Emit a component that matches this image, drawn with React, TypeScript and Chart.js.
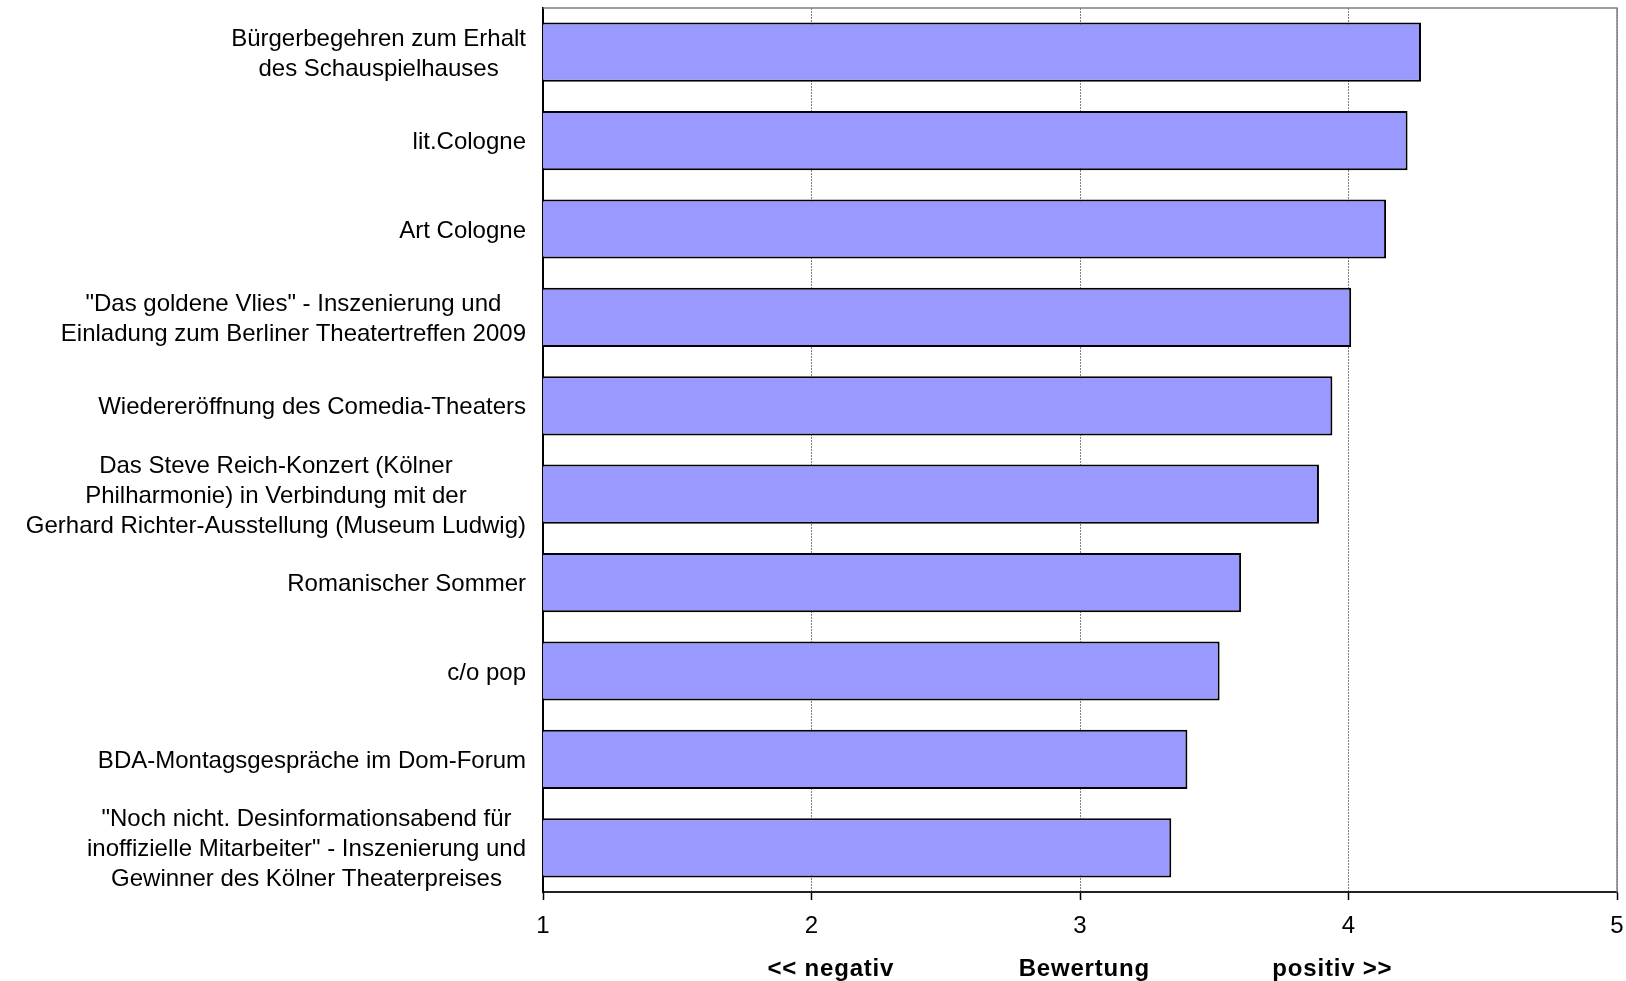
import React, { useEffect, useRef } from "react";
import { Chart, registerables } from "chart.js";

Chart.register(...registerables);

const categories: string[][] = [
  ["Bürgerbegehren zum Erhalt", "des Schauspielhauses"],
  ["lit.Cologne"],
  ["Art Cologne"],
  ["\"Das goldene Vlies\" - Inszenierung und", "Einladung zum Berliner Theatertreffen 2009"],
  ["Wiedereröffnung des Comedia-Theaters"],
  ["Das Steve Reich-Konzert (Kölner", "Philharmonie) in Verbindung mit der", "Gerhard Richter-Ausstellung (Museum Ludwig)"],
  ["Romanischer Sommer"],
  ["c/o pop"],
  ["BDA-Montagsgespräche im Dom-Forum"],
  ["\"Noch nicht. Desinformationsabend für", "inoffizielle Mitarbeiter\" - Inszenierung und", "Gewinner des Kölner Theaterpreises"],
];
const ratings: number[] = [4.27, 4.22, 4.14, 4.01, 3.94, 3.89, 3.6, 3.52, 3.4, 3.34];
const xMin = 1;
const xMax = 5;
const axisTitleParts: string[] = ["<< negativ", "Bewertung", "positiv >>"];

const FONT = "'Liberation Sans', Arial, sans-serif";

export default function App() {
  const ref = useRef<HTMLCanvasElement | null>(null);

  useEffect(() => {
    if (!ref.current) return;
    const frame = {
      id: "frame",
      beforeDatasetsDraw(chart: any) {
        const { ctx, chartArea: a } = chart;
        ctx.save();
        ctx.strokeStyle = "#808080";
        ctx.lineWidth = 1.5;
        ctx.beginPath();
        ctx.moveTo(a.left, a.top);
        ctx.lineTo(a.right, a.top);
        ctx.lineTo(a.right, a.bottom);
        ctx.stroke();
        ctx.restore();
      },
      afterDraw(chart: any) {
        const { ctx, chartArea: a } = chart;
        const yScale = chart.scales.y;
        ctx.save();
        ctx.fillStyle = "#000";
        ctx.font = `24px ${FONT}`;
        ctx.textAlign = "center";
        ctx.textBaseline = "middle";
        const lineH = 30;
        const right = a.left - 17;
        categories.forEach((lines, i) => {
          const y = yScale.getPixelForValue(i) + 2;
          const maxW = Math.max(...lines.map((l) => ctx.measureText(l).width));
          const cx = right - maxW / 2;
          const y0 = y - ((lines.length - 1) * lineH) / 2;
          lines.forEach((l, j) => ctx.fillText(l, cx, y0 + j * lineH));
        });
        ctx.font = `bold 24px ${FONT}`;
        (ctx as any).letterSpacing = "0.8px";
        const fr = [0.268, 0.504, 0.735];
        axisTitleParts.forEach((t, k) => {
          ctx.fillText(t, a.left + fr[k] * (a.right - a.left), 969);
        });
        ctx.restore();
      },
    };

    const chart = new Chart(ref.current, {
      type: "bar",
      data: {
        labels: categories.map((c) => c.join(" ")),
        datasets: [
          {
            data: ratings,
            backgroundColor: "#9999FF",
            borderColor: "#000000",
            borderWidth: 2,
            borderSkipped: false,
            barPercentage: 0.67,
            categoryPercentage: 1,
          },
        ],
      },
      options: {
        indexAxis: "y",
        animation: false,
        responsive: false,
        devicePixelRatio: 1,
        layout: { padding: { top: 8, right: 0, left: 0, bottom: 0 } },
        plugins: { legend: { display: false }, tooltip: { enabled: false } },
        scales: {
          x: {
            min: xMin,
            max: xMax,
            ticks: {
              stepSize: 1,
              color: "#000",
              font: { family: FONT, size: 24 },
              padding: 12,
            },
            grid: {
              color: (c: any) => (c.tick && c.tick.value === xMin ? "rgba(0,0,0,0)" : "#808080"),
              lineWidth: 1,
              drawTicks: true,
              tickLength: 8,
              tickColor: "#000",
              tickWidth: 1.5,
            },
            border: { display: true, color: "#222", width: 2, dash: [2, 1] },
            afterFit(scale: any) {
              scale.height = 89;
              scale.paddingRight = 9;
              scale.paddingLeft = 0;
            },
          },
          y: {
            ticks: { display: false },
            grid: { display: false },
            border: { display: true, color: "#000", width: 2 },
            afterFit(scale: any) {
              scale.width = 543;
            },
          },
        },
      },
      plugins: [frame],
    } as any);
    return () => chart.destroy();
  }, []);

  return (
    <div style={{ position: "absolute", left: 0, top: 0, width: 1626, height: 981, background: "#fff" }}>
      <canvas ref={ref} width={1626} height={981} style={{ display: "block" }} />
    </div>
  );
}
